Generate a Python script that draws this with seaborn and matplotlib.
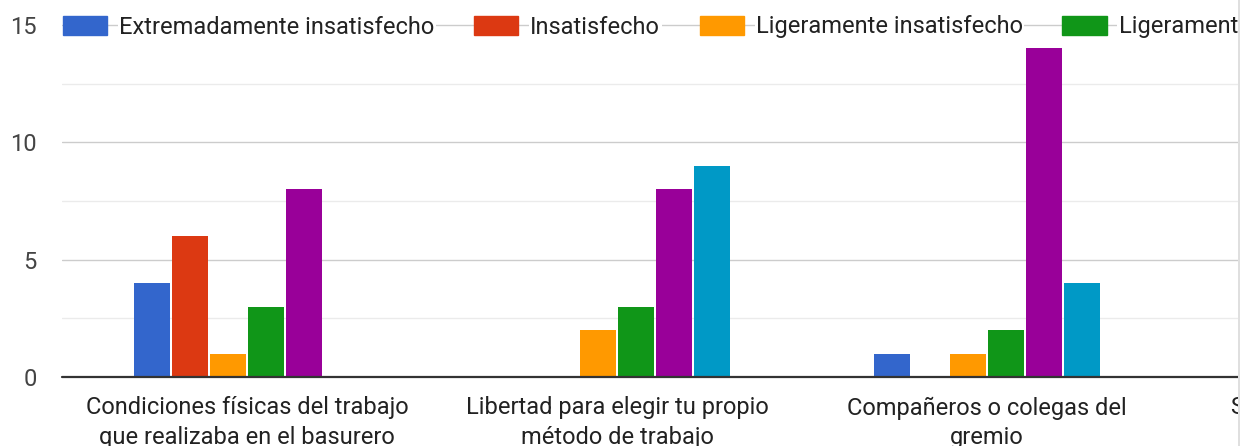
import pandas as pd
import seaborn as sns
import matplotlib.pyplot as plt
from matplotlib.patches import Rectangle
from matplotlib.lines import Line2D

# Survey aspects (x categories); the last one sits at the right edge
categories = [
    "Condiciones físicas del trabajo\nque realizaba en el basurero",
    "Libertad para elegir tu propio\nmétodo de trabajo",
    "Compañeros o colegas del\ngremio",
    "Salario o ingreso que se\nobtenía",
]

# Satisfaction levels (series)
levels = [
    "Extremadamente insatisfecho",
    "Insatisfecho",
    "Ligeramente insatisfecho",
    "Ligeramente satisfecho",
    "Satisfecho",
    "Extremadamente satisfecho",
]

# Number of answers per level, one list per aspect
counts_condiciones = [4, 6, 1, 3, 8, 0]
counts_libertad = [0, 0, 2, 3, 8, 9]
counts_companeros = [1, 0, 1, 2, 14, 4]

colors = ["#3366cc", "#dc3912", "#ff9900", "#109618", "#990099", "#0099c6"]

y_major = [0, 5, 10, 15]
y_minor = [2.5, 7.5, 12.5]

rows = []
for cat, vals in zip(categories[:3], [counts_condiciones, counts_libertad, counts_companeros]):
    for lvl, v in zip(levels, vals):
        rows.append({"aspecto": cat, "nivel": lvl, "respuestas": v})
df = pd.DataFrame(rows)

sns.set_theme(style="white")
plt.rcParams["font.family"] = ["Roboto", "DejaVu Sans"]

W, H = 1245, 446
fig = plt.figure(figsize=(W / 100, H / 100), dpi=100)

ppu = 352 / 15.0  # pixels per unit on the value axis
y_top = 15.25
ax = fig.add_axes([62 / W, 69 / H, (1238 - 62) / W, (y_top * ppu) / H])

sns.barplot(
    data=df, x="aspecto", y="respuestas", hue="nivel",
    order=categories, hue_order=levels, palette=colors,
    width=0.617, gap=0.05, saturation=1, legend=False,
    linewidth=0, ax=ax,
)

ax.set_xlim(-0.5, (1238 - 247) / 370)
ax.set_ylim(0, y_top)
ax.set_yticks(y_major)
ax.set_yticks(y_minor, minor=True)
ax.grid(axis="y", which="major", color="#cccccc", linewidth=1.0)
ax.grid(axis="y", which="minor", color="#ebebeb", linewidth=1.0)
ax.grid(axis="x", visible=False)
ax.set_axisbelow(True)
ax.axhline(0, color="#333333", linewidth=1.6, zorder=4, clip_on=False)

for s in ax.spines.values():
    s.set_visible(False)

ax.set_xlabel("")
ax.set_ylabel("")
label_pad = 14
ax.tick_params(axis="y", which="both", length=0, pad=18, labelsize=17, labelcolor="#444444")
ax.tick_params(axis="x", length=0, pad=label_pad, labelsize=17, labelcolor="#222222")
for t in ax.get_xticklabels():
    t.set_linespacing(1.35)

# The last category lies past the right limit, so its label is placed by hand
ax.annotate(categories[3], xy=(3, 0), xycoords=ax.get_xaxis_transform(),
            xytext=(0, -label_pad), textcoords="offset points",
            ha="center", va="top", fontsize=17, color="#222222",
            linespacing=1.35, annotation_clip=False)

handles = [Rectangle((0, 0), 1, 1, facecolor=c, edgecolor=c) for c in colors]
leg = fig.legend(
    handles, levels, loc="center left",
    bbox_to_anchor=(63 / W, 1 - 27 / H), bbox_transform=fig.transFigure,
    ncol=6, frameon=False, fontsize=17,
    handlelength=1.875, handleheight=0.85, handletextpad=0.51,
    columnspacing=1.67, borderpad=0, borderaxespad=0,
)
for t in leg.get_texts():
    t.set_color("#222222")
    t.set_bbox(dict(facecolor="white", edgecolor="none", pad=1))

# Right edge of the chart frame
fig.add_artist(Rectangle((1238 / W, 0), 1, 1, transform=fig.transFigure,
                         facecolor="white", edgecolor="none", zorder=20))
fig.add_artist(Line2D([1238.5 / W, 1238.5 / W], [0, 1], transform=fig.transFigure,
                      color="#d9d9d9", linewidth=1.2, zorder=21))

fig.savefig("out.png", dpi=100)
